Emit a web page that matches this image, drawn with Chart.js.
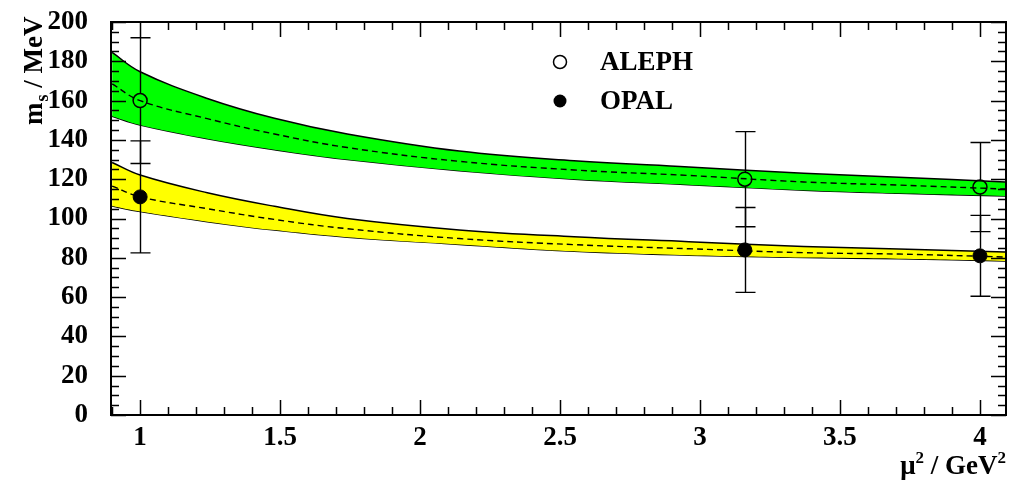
<!DOCTYPE html>
<html>
<head>
<meta charset="utf-8">
<script src="https://cdn.jsdelivr.net/npm/chart.js@4.4.1/dist/chart.umd.min.js"></script>
<style>
  html, body { margin: 0; padding: 0; background: #fff; overflow: hidden; }
  #wrap { width: 1009px; height: 483px; position: relative; }
  canvas { display: block; }
</style>
</head>
<body>
<div id="wrap"><canvas id="c" width="1009" height="483"></canvas></div>
<script>
// Running strange-quark mass bands, m_s(mu^2), with the measurements.
const bandX        = [0.9, 1.0, 1.24, 1.48, 1.74, 2.14, 2.55, 2.96, 3.37, 3.71, 4.09];
const alephUpper   = [184.5, 174.7, 161.1, 151.0, 143.0, 134.3, 129.4, 126.2, 123.0, 121.0, 118.6];
const alephCentral = [168.5, 160.0, 150.8, 143.0, 136.1, 129.1, 124.7, 121.9, 118.6, 117.0, 115.0];
const alephLower   = [152.0, 147.6, 140.6, 135.0, 130.0, 124.3, 120.0, 117.2, 114.4, 112.8, 111.4];
const opalUpper    = [128.5, 122.1, 113.1, 106.2, 100.0, 94.2, 90.7, 88.2, 85.8, 84.5, 82.9];
const opalCentral  = [116.5, 111.0, 105.0, 99.5, 94.8, 89.8, 86.7, 84.6, 82.6, 81.9, 80.4];
const opalLower    = [106.3, 103.5, 98.4, 94.1, 90.5, 86.8, 83.3, 81.3, 80.1, 79.5, 78.4];

// Measurements at three scales
const measX     = [1.0, 3.16, 4.0];
const alephMass = [160, 120, 116];
const alephErr  = [32, 24.2, 22.7];
const opalMass  = [111, 84, 81];
const opalErr   = [28.5, 21.6, 20.6];

// Axis tick labels
const xTicks = [1, 1.5, 2, 2.5, 3, 3.5, 4];
const yTicks = [0, 20, 40, 60, 80, 100, 120, 140, 160, 180, 200];

const seriesNames = ['ALEPH', 'OPAL'];

const FONT_FAMILY = '"Liberation Serif", "DejaVu Serif", serif';
const pts = (ys) => bandX.map((x, i) => ({ x, y: ys[i] }));
const meas = (ys) => measX.map((x, i) => ({ x, y: ys[i] }));

const bandLine = (ys, fillTarget, fillColor) => ({
  data: pts(ys),
  borderColor: '#000',
  borderWidth: 1.5,
  backgroundColor: fillColor || 'transparent',
  fill: fillTarget === undefined ? false : { target: fillTarget },
  pointRadius: 0,
  tension: 0.4,
  order: 10
});
const centralLine = (ys) => ({
  data: pts(ys),
  borderColor: '#000',
  borderWidth: 1.4,
  borderDash: [6, 4],
  fill: false,
  pointRadius: 0,
  tension: 0.4,
  order: 5
});

// Error bars drawn with a gap at the marker, with end caps
const errorBars = {
  id: 'errorBars',
  afterDatasetsDraw(chart) {
    const { ctx, scales: { x, y } } = chart;
    const sets = [
      { m: alephMass, e: alephErr, r: 7 },
      { m: opalMass, e: opalErr, r: 7 }
    ];
    ctx.save();
    ctx.strokeStyle = '#000';
    ctx.lineWidth = 1.4;
    sets.forEach(s => {
      measX.forEach((xv, i) => {
        const px = Math.round(x.getPixelForValue(xv)) + 0.5;
        const pc = y.getPixelForValue(s.m[i]);
        const pHi = y.getPixelForValue(s.m[i] + s.e[i]);
        const pLo = y.getPixelForValue(s.m[i] - s.e[i]);
        ctx.beginPath();
        ctx.moveTo(px, pHi); ctx.lineTo(px, pc - s.r);
        ctx.moveTo(px, pc + s.r); ctx.lineTo(px, pLo);
        ctx.moveTo(px - 10, pHi); ctx.lineTo(px + 10, pHi);
        ctx.moveTo(px - 10, pLo); ctx.lineTo(px + 10, pLo);
        ctx.stroke();
      });
    });
    ctx.restore();
  }
};

// Frame with inward ticks on all four sides, axis titles and the legend
const frameAndText = {
  id: 'frameAndText',
  afterDraw(chart) {
    const { ctx, chartArea: a, scales: { x, y } } = chart;
    ctx.save();
    ctx.strokeStyle = '#000';
    ctx.lineWidth = 2;
    ctx.strokeRect(a.left, a.top, a.right - a.left, a.bottom - a.top);

    ctx.lineWidth = 1.5;
    ctx.beginPath();
    // x ticks: majors every 0.5, minors every 0.1
    for (let k = 9; k <= 40; k++) {
      const v = k / 10;
      const px = Math.round(x.getPixelForValue(v)) + 0.5;
      const len = (k % 5 === 0) ? 15 : 8;
      ctx.moveTo(px, a.bottom); ctx.lineTo(px, a.bottom - len);
      ctx.moveTo(px, a.top); ctx.lineTo(px, a.top + len);
    }
    // y ticks: majors every 20, minors every 5
    for (let v = 0; v <= 200; v += 5) {
      const py = Math.round(y.getPixelForValue(v)) + 0.5;
      const len = (v % 20 === 0) ? 15 : 8;
      ctx.moveTo(a.left, py); ctx.lineTo(a.left + len, py);
      ctx.moveTo(a.right, py); ctx.lineTo(a.right - len, py);
    }
    ctx.stroke();

    ctx.fillStyle = '#000';
    // y-axis title: m_s / MeV (rotated)
    ctx.save();
    ctx.translate(42, 125);
    ctx.rotate(-Math.PI / 2);
    ctx.textAlign = 'left';
    ctx.textBaseline = 'alphabetic';
    ctx.font = 'bold 27px ' + FONT_FAMILY;
    ctx.fillText('m', 0, 0);
    let w = ctx.measureText('m').width;
    ctx.font = 'bold 18px ' + FONT_FAMILY;
    ctx.fillText('s', w + 1, 6);
    w += ctx.measureText('s').width + 1;
    ctx.font = 'bold 27px ' + FONT_FAMILY;
    ctx.fillText(' / MeV', w, 0);
    ctx.restore();

    // x-axis title: mu^2 / GeV^2, right aligned
    ctx.textBaseline = 'alphabetic';
    ctx.textAlign = 'left';
    const big = 'bold 27px ' + FONT_FAMILY;
    const sup = 'bold 17px ' + FONT_FAMILY;
    const parts = [['\u03bc', big, 0], ['2', sup, -11], [' / GeV', big, 0], ['2', sup, -11]];
    let total = 0;
    parts.forEach(p => { ctx.font = p[1]; total += ctx.measureText(p[0]).width; });
    let cx = 1006 - total;
    parts.forEach(p => {
      ctx.font = p[1];
      ctx.fillText(p[0], cx, 474 + p[2]);
      cx += ctx.measureText(p[0]).width;
    });

    // legend
    ctx.lineWidth = 1.5;
    ctx.beginPath();
    ctx.arc(560, 62, 6.5, 0, Math.PI * 2);
    ctx.stroke();
    ctx.beginPath();
    ctx.arc(560, 101, 6.5, 0, Math.PI * 2);
    ctx.fill();
    ctx.font = 'bold 27px ' + FONT_FAMILY;
    ctx.textBaseline = 'middle';
    ctx.fillText(seriesNames[0], 600, 63);
    ctx.fillText(seriesNames[1], 600, 102);
    ctx.restore();
  }
};

const tickFont = { family: FONT_FAMILY, size: 27, weight: 'bold' };
const noOverflow = s => { s.paddingLeft = 0; s.paddingRight = 0; s.paddingTop = 0; s.paddingBottom = 0; };

new Chart(document.getElementById('c'), {
  type: 'line',
  data: {
    datasets: [
      bandLine(alephUpper, 1, '#00ff00'),
      bandLine(alephLower),
      centralLine(alephCentral),
      bandLine(opalUpper, 4, '#ffff00'),
      bandLine(opalLower),
      centralLine(opalCentral),
      {
        label: seriesNames[0],
        data: meas(alephMass),
        showLine: false,
        pointStyle: 'circle',
        pointRadius: 7,
        pointBorderWidth: 1.5,
        pointBorderColor: '#000',
        pointBackgroundColor: 'rgba(0,0,0,0)',
        order: 0
      },
      {
        label: seriesNames[1],
        data: meas(opalMass),
        showLine: false,
        pointStyle: 'circle',
        pointRadius: 7,
        pointBorderWidth: 1,
        pointBorderColor: '#000',
        pointBackgroundColor: '#000',
        order: 0
      }
    ]
  },
  options: {
    responsive: false,
    animation: false,
    devicePixelRatio: 1,
    layout: { autoPadding: false, padding: { left: 0, right: 3, top: 22, bottom: 0 } },
    plugins: {
      legend: { display: false },
      tooltip: { enabled: false }
    },
    scales: {
      x: {
        type: 'linear',
        min: 0.896,
        max: 4.093,
        grid: { display: false, drawTicks: false },
        border: { display: false },
        ticks: { font: tickFont, color: '#000', padding: 7, maxRotation: 0, autoSkip: false,
                 callback: v => String(v) },
        afterBuildTicks: s => { s.ticks = xTicks.map(v => ({ value: v })); },
        afterFit: s => { s.height = 68; noOverflow(s); }
      },
      y: {
        type: 'linear',
        min: 0,
        max: 200,
        grid: { display: false, drawTicks: false },
        border: { display: false },
        ticks: { font: tickFont, color: '#000', padding: 23, autoSkip: false,
                 callback: v => String(v) },
        afterBuildTicks: s => { s.ticks = yTicks.map(v => ({ value: v })); },
        afterFit: s => { s.width = 111; noOverflow(s); }
      }
    }
  },
  plugins: [errorBars, frameAndText]
});
</script>
</body>
</html>
